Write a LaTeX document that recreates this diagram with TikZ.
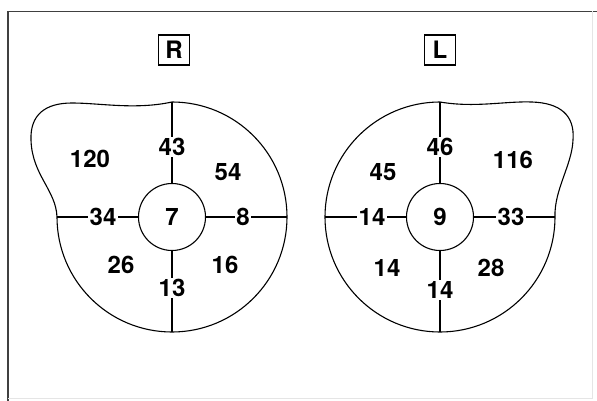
\documentclass[tikz,border=0pt]{standalone}
\usepackage{fontspec}
\setmainfont{TeX Gyre Heros}
\usepackage{tikz}

\begin{document}
\begin{tikzpicture}[
  x=1pt, y=1pt,
  line width=1.1pt,
  num/.style={font=\fontsize{24}{28}\selectfont\bfseries, inner sep=1.5pt},
  onspoke/.style={num, fill=white},
  eyebox/.style={rectangle, draw, line width=1.2pt, minimum width=31pt, minimum height=30pt, inner sep=0pt, font=\fontsize{24}{28}\selectfont\bfseries},
  hub/.style={circle, draw, minimum size=67pt, inner sep=0pt, font=\fontsize{24}{28}\selectfont\bfseries},
  frame/.style={line width=1.3pt, black!75}
]
\useasboundingbox (0,0) rectangle (597,-401);

% frame
\draw[frame] (8,-401) -- (8,-11.5) -- (597,-11.5);
\draw[black!10, line width=0.8pt] (592,-11.5) -- (592,-398) -- (8,-398);

% headings
\node[eyebox] (Rlab) at (174,-50) {R};
\node[eyebox] (Llab) at (440,-50) {L};

% right eye
\node[hub] (Rin) at (172,-217) {7};
\coordinate (Rtop)   at (172,-102);
\coordinate (Rbot)   at (172,-332);
\coordinate (Rleft)  at (57,-217);
\coordinate (Rright) at (287,-217);
\draw (Rtop) arc[start angle=90, end angle=-180, radius=115]
  .. controls (56,-190) and (32,-175) .. (31,-140)
  .. controls (30,-115) and (45,-103) .. (72,-103)
  .. controls (100,-103) and (135,-110) .. (Rtop);
\draw (Rin.north) -- (Rtop);
\draw (Rin.south) -- (Rbot);
\draw (Rin.west) -- (Rleft);
\draw (Rin.east) -- (Rright);
\node[onspoke] (R43) at (172,-147) {43};
\node[onspoke] (R13) at (172,-288) {13};
\node[onspoke] (R34) at (103,-217) {34};
\node[onspoke] (R8)  at (243,-217) {8};
\node[num] (R120) at (90,-159)  {120};
\node[num] (R54)  at (228,-172) {54};
\node[num] (R26)  at (121,-265) {26};
\node[num] (R16)  at (225,-265) {16};

% left eye
\node[hub] (Lin) at (440,-217) {9};
\coordinate (Ltop)   at (440,-102);
\coordinate (Lbot)   at (440,-332);
\coordinate (Lleft)  at (325,-217);
\coordinate (Lright) at (555,-217);
\draw (Ltop) .. controls (475,-108) and (505,-101) .. (532,-102)
  .. controls (560,-103) and (575,-115) .. (573,-140)
  .. controls (572,-165) and (554,-190) .. (Lright)
  arc[start angle=0, end angle=-270, radius=115] -- cycle;
\draw (Lin.north) -- (Ltop);
\draw (Lin.south) -- (Lbot);
\draw (Lin.west) -- (Lleft);
\draw (Lin.east) -- (Lright);
\node[onspoke] (L46) at (440,-147) {46};
\node[onspoke] (L14b) at (440,-290) {14};
\node[onspoke] (L14w) at (372,-217) {14};
\node[onspoke] (L33) at (511,-217) {33};
\node[num] (L45)  at (383,-172) {45};
\node[num] (L116) at (513,-160) {116};
\node[num] (L14)  at (387,-268) {14};
\node[num] (L28)  at (491,-268) {28};
\end{tikzpicture}
\end{document}
